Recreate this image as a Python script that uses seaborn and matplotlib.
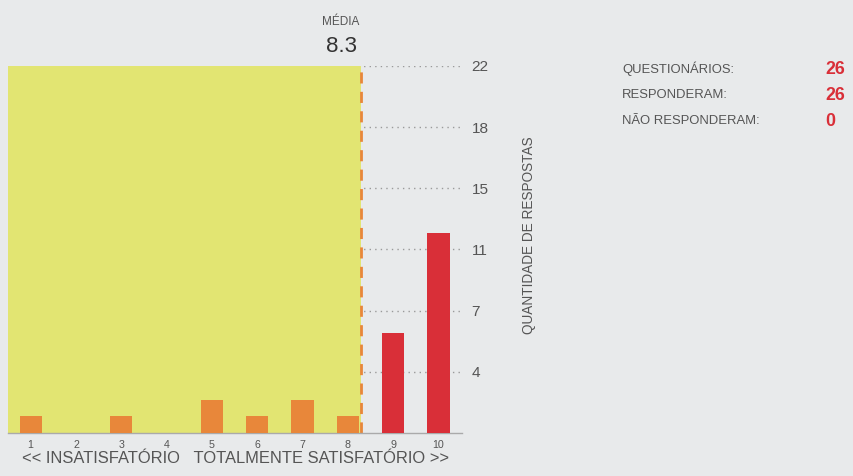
import numpy as np
import pandas as pd
import matplotlib
matplotlib.use("Agg")
import matplotlib.pyplot as plt
from matplotlib import font_manager
import seaborn as sns

# data
notas = ['1', '2', '3', '4', '5', '6', '7', '8', '9', '10']
respostas = [1, 0, 1, 0, 2, 1, 2, 1, 6, 12]
cores = ['#e8873a'] * 8 + ['#d92f38'] * 2
media = 8.3
y_max = 22
resumo_rotulos = ['QUESTIONÁRIOS:', 'RESPONDERAM:', 'NÃO RESPONDERAM:']
resumo_valores = [26, 26, 0]

sns.set_theme(style='white')
instaladas = {f.name for f in font_manager.fontManager.ttflist}
narrow = 'Liberation Sans Narrow' in instaladas
k = 1.0 if narrow else 0.85  # fonte normal é mais larga
plt.rcParams['font.family'] = (['Liberation Sans Narrow'] if narrow else []) + ['Liberation Sans', 'DejaVu Sans']

bg = '#e8eaeb'
txt = '#555555'

df = pd.DataFrame({'nota': notas, 'respostas': respostas})

fig = plt.figure(figsize=(8.54, 4.76), dpi=100, facecolor=bg)
# eixo de x=8px a x=462px, y=66px a y=433px
ax = fig.add_axes([8 / 854, 43 / 476, 454 / 854, 367 / 476])
ax.set_facecolor(bg)

sns.barplot(data=df, x='nota', y='respostas', hue='nota', palette=cores,
            legend=False, width=0.49, ax=ax, zorder=3, saturation=1, linewidth=0)

# posição da média no eixo categórico (nota 1 -> 0)
pos_media = media - 1
ax.set_xlim(-0.5, 9.52)
ax.set_ylim(0, y_max)
ax.axvspan(-0.5, pos_media, color='#e2e572', zorder=1, lw=0)
ax.axvline(pos_media, color='#e8873a', lw=2, ls=(0, (4, 3)), zorder=2)

ticks = [y_max * i / 6 for i in range(1, 7)]
ax.set_yticks(ticks)
ax.set_yticklabels([str(int(round(t))) for t in ticks])
ax.yaxis.tick_right()
ax.grid(axis='y', color='#9a9a9a', ls=(0, (1, 3)), lw=1)
ax.set_axisbelow(True)
ax.tick_params(axis='y', length=0, pad=7, labelsize=13 * k, labelcolor=txt)
ax.tick_params(axis='x', length=0, pad=5, labelsize=9 * k, labelcolor=txt)
ax.set_xlabel('<< INSATISFATÓRIO   TOTALMENTE SATISFATÓRIO >>',
              fontsize=14 * k, color=txt, labelpad=1)
ax.set_ylabel('')
fig.text(529 / 854, 1 - 235 / 476, 'QUANTIDADE DE RESPOSTAS', rotation=90,
         fontsize=11.5 * k, color=txt, ha='center', va='center')

for s in ['top', 'left', 'right']:
    ax.spines[s].set_visible(False)
ax.spines['bottom'].set_color('#aaaaaa')
ax.spines['bottom'].set_linewidth(1)

fig.text(341 / 854, 1 - 22 / 476, 'MÉDIA', ha='center', va='center',
         fontsize=10 * k, color=txt)
fig.text(342 / 854, 1 - 46 / 476, f'{media:.1f}', ha='center', va='center',
         fontsize=19 * k, color='#333333')

for i, (r, v) in enumerate(zip(resumo_rotulos, resumo_valores)):
    y = 1 - (69 + i * 26) / 476
    fig.text(622 / 854, y, r, fontsize=11 * k, color=txt, va='center')
    fig.text(825 / 854, y, str(v), fontsize=15 * k, color='#d92f38',
             fontweight='bold', va='center')

fig.savefig('out.png', dpi=100, facecolor=bg)
